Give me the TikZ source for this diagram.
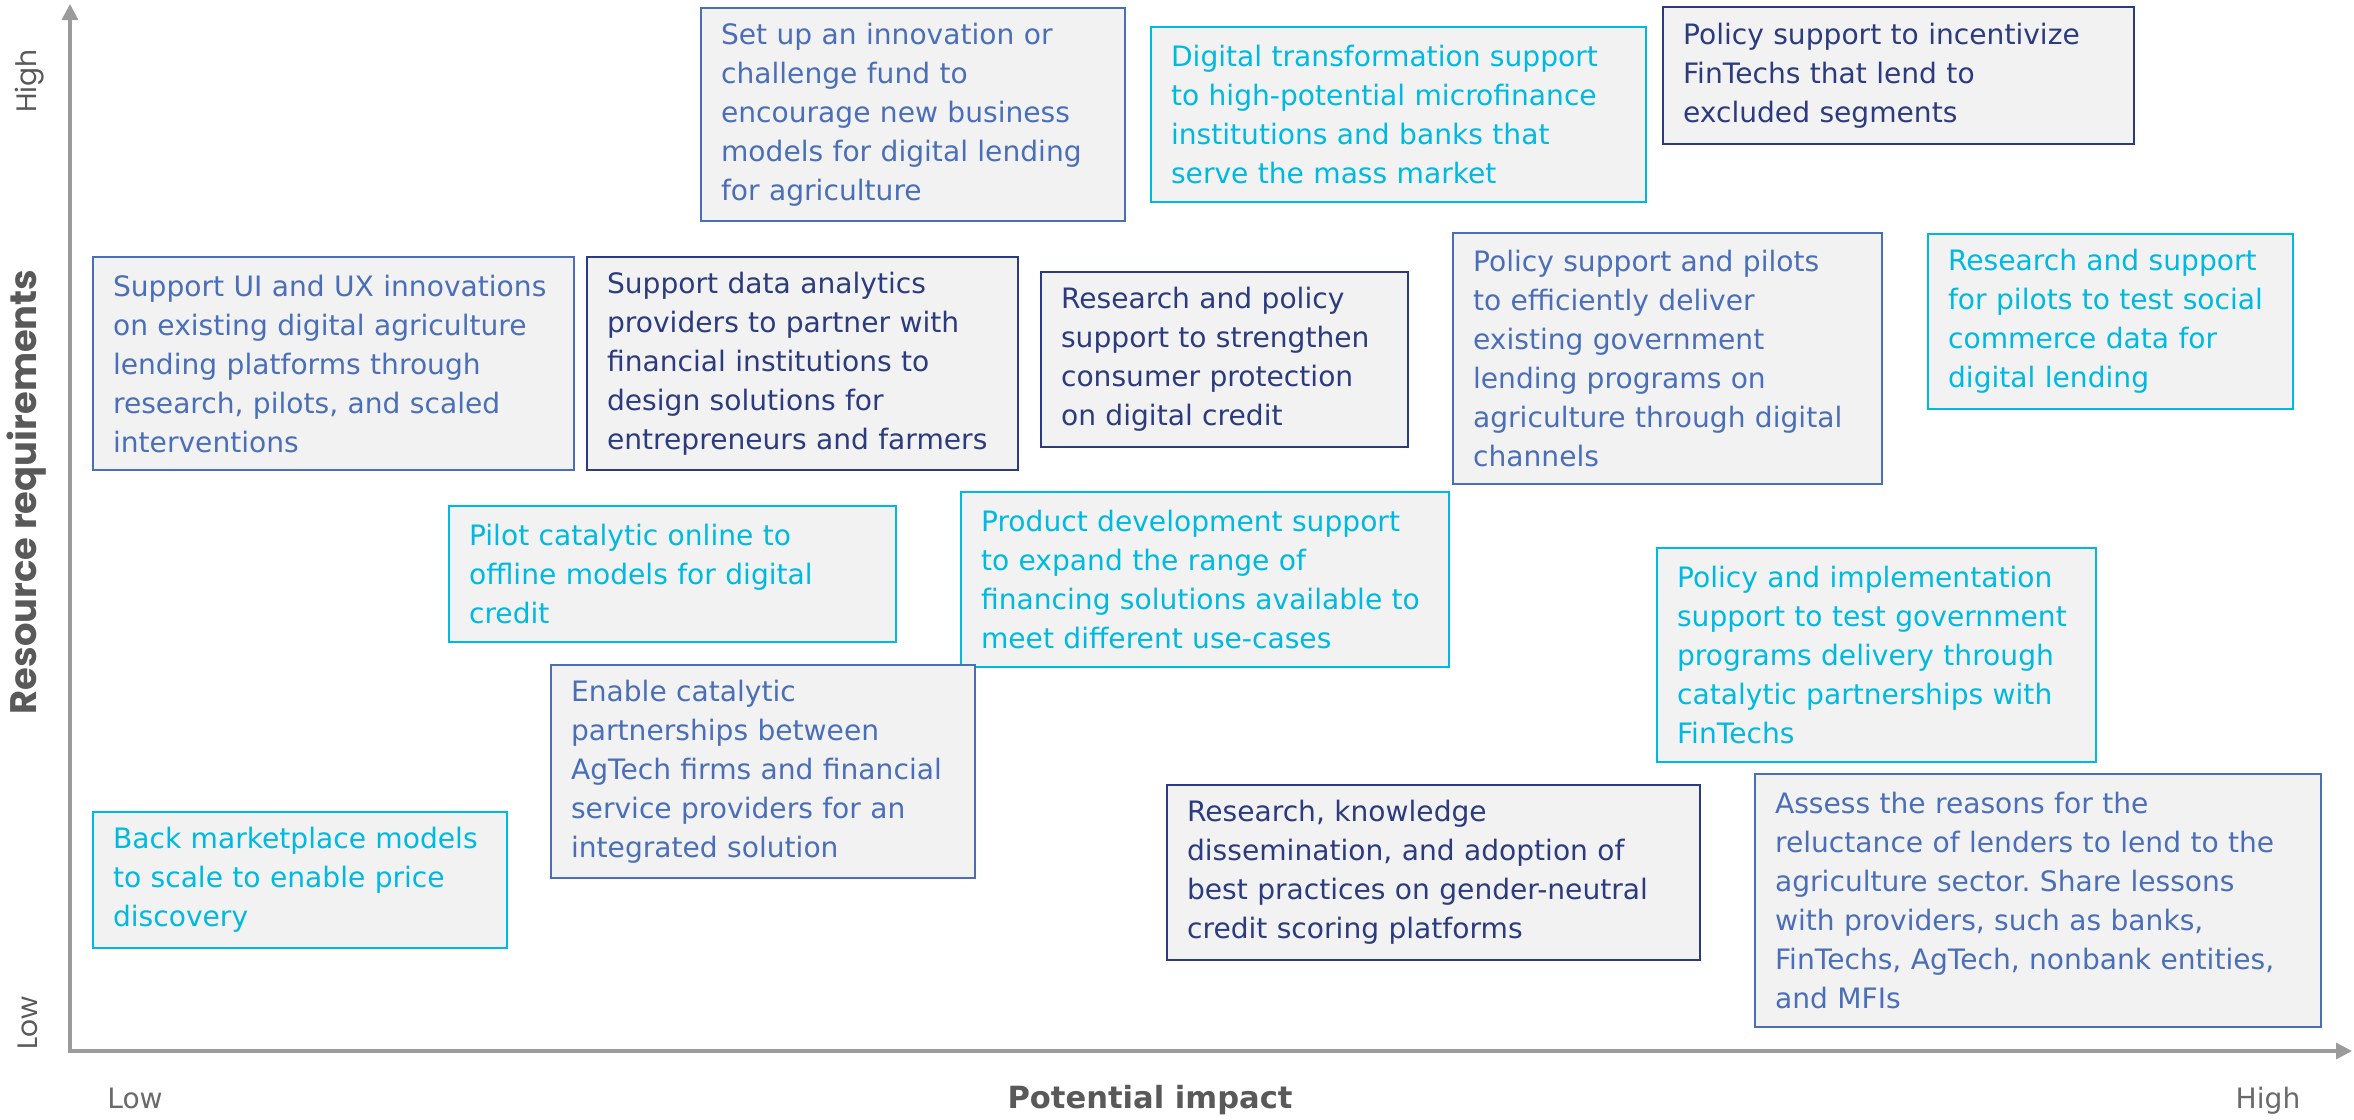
\documentclass[tikz,border=0pt]{standalone}
\usepackage{fontspec}
\setmainfont{DejaVu Sans}
\newfontfamily\axisfont{Poppins}
\usepackage{tikz}
\usetikzlibrary{arrows.meta}
\frenchspacing
\definecolor{midblue}{HTML}{4A6FB8}
\definecolor{navyblue}{HTML}{2B3B7E}
\definecolor{cyanblue}{HTML}{00B9E0}
\definecolor{cardgray}{HTML}{F2F2F2}
\definecolor{axisgray}{HTML}{9B9B9B}
\definecolor{labelgray}{HTML}{595959}
\tikzstyle{card} = [rectangle, anchor=north west, fill=cardgray, line width=0.6pt, inner xsep=2mm, inner ysep=0pt, align=left, font=\fontsize{8}{11.1}\selectfont]
\tikzstyle{midcard} = [card, draw=midblue, text=midblue]
\tikzstyle{navycard} = [card, draw=navyblue, text=navyblue]
\tikzstyle{cyancard} = [card, draw=cyanblue, text=cyanblue]
\tikzstyle{axis} = [axisgray, line width=0.9pt, {Triangle[length=1.6mm,width=1.6mm]}-{Triangle[length=1.6mm,width=1.6mm]}]
\tikzstyle{ylabel} = [rotate=90, text=labelgray, font=\axisfont\fontsize{8}{9}\selectfont]
\tikzstyle{xlabel} = [text=labelgray!90, font=\fontsize{8}{9}\selectfont]

\begin{document}
\begin{tikzpicture}[x=0.1mm, y=-0.1mm]
\useasboundingbox (0,0) rectangle (2354,1119);

% axes
\coordinate (ytop) at (70,4);
\coordinate (origin) at (70,1051);
\coordinate (xend) at (2352,1051);
\draw [axis] (ytop) -- (origin) -- (xend);

\node (yhigh) [ylabel] at (30,81) {High};
\node (ylow)  [ylabel] at (28,1023) {Low};
\node (yname) [ylabel, font=\axisfont\bfseries\fontsize{10.5}{12}\selectfont] at (27,492) {Resource requirements};
\node (xlow)  [xlabel] at (135,1098) {Low};
\node (xhigh) [xlabel] at (2268,1101) {High};
\node (xname) [text=labelgray, font=\bfseries\fontsize{8.7}{10}\selectfont] at (1150,1100) {Potential impact};

% top row
\node (fund)    [midcard, text width=38.4mm, minimum height=21.3mm] at (700,7) {Set up an innovation or\\challenge fund to\\encourage new business\\models for digital lending\\for agriculture};
\node (mfi)     [cyancard, text width=45.5mm, minimum height=17.5mm] at (1150,26) {Digital transformation support\\to high-potential microfinance\\institutions and banks that\\serve the mass market};
\node (fintech) [navycard, text width=43.1mm, minimum height=13.7mm] at (1662,6) {Policy support to incentivize\\FinTechs that lend to\\excluded segments};

% second row
\node (uiux)       [midcard, text width=44.1mm, minimum height=21.3mm] at (92,256) {Support UI and UX innovations\\on existing digital agriculture\\lending platforms through\\research, pilots, and scaled\\interventions};
\node (analytics)  [navycard, text width=39.1mm, minimum height=21.3mm] at (586,256) {Support data analytics\\providers to partner with\\financial institutions to\\design solutions for\\entrepreneurs and farmers};
\node (protection) [navycard, text width=32.7mm, minimum height=17.5mm] at (1040,271) {Research and policy\\support to strengthen\\consumer protection\\on digital credit};
\node (govlend)    [midcard, text width=38.9mm, minimum height=25.1mm] at (1452,232) {Policy support and pilots\\to efficiently deliver\\existing government\\lending programs on\\agriculture through digital\\channels};
\node (social)     [cyancard, text width=32.5mm, minimum height=17.5mm] at (1927,233) {Research and support\\for pilots to test social\\commerce data for\\digital lending};

% middle
\node (o2o)     [cyancard, text width=40.7mm, minimum height=13.6mm] at (448,505) {Pilot catalytic online to\\offline models for digital\\credit};
\node (product) [cyancard, text width=44.8mm, minimum height=17.5mm] at (960,491) {Product development support\\to expand the range of\\financing solutions available to\\meet different use-cases};
\node (govtest) [cyancard, text width=39.9mm, minimum height=21.4mm] at (1656,547) {Policy and implementation\\support to test government\\programs delivery through\\catalytic partnerships with\\FinTechs};
\node (agtech)  [midcard, text width=38.4mm, minimum height=21.3mm] at (550,664) {Enable catalytic\\partnerships between\\AgTech firms and financial\\service providers for an\\integrated solution};

% bottom row
\node (market)  [cyancard, text width=37.4mm, minimum height=13.6mm] at (92,811) {Back marketplace models\\to scale to enable price\\discovery};
\node (gender)  [navycard, text width=49.3mm, minimum height=17.5mm] at (1166,784) {Research, knowledge\\dissemination, and adoption of\\best practices on gender-neutral\\credit scoring platforms};
\node (reluct)  [midcard, text width=52.6mm, minimum height=25.3mm] at (1754,773) {Assess the reasons for the\\reluctance of lenders to lend to the\\agriculture sector. Share lessons\\with providers, such as banks,\\FinTechs, AgTech, nonbank entities,\\and MFIs};
\end{tikzpicture}
\end{document}
